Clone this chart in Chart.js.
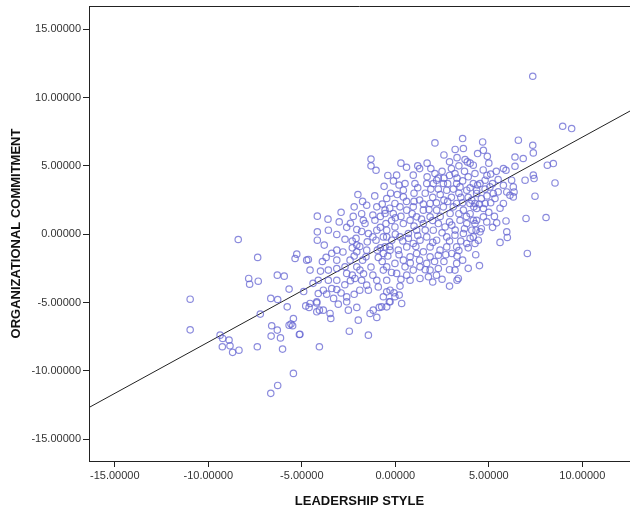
<!DOCTYPE html>
<html>
<head>
<meta charset="utf-8">
<script src="https://cdn.jsdelivr.net/npm/chart.js@4/dist/chart.umd.min.js"></script>
<style>
html,body{margin:0;padding:0;background:#fff}
#wrap{width:630px;height:509px}
</style>
</head>
<body>
<div id="wrap"><canvas id="scatter" width="630" height="509"></canvas></div>
<script>
// ticks
const xTicks = [-15,-10,-5,0,5,10]
const yTicks = [-15,-10,-5,0,5,10,15]

// droite de régression (deux bouts)
const fitX = [-16.4, 12.6]
const fitY = [-12.7, 9.05]

// cas : [leadership, commitment]
const cases = [
[-10.97,-4.76],[-10.97,-7.0],[-8.4,-0.39],[-7.36,-1.7],[-7.84,-3.24],[-7.79,-3.66],[-7.33,-3.44],[-6.31,-3.0],[-5.94,-3.07],[-5.68,-4.02],
[-5.27,-1.46],[-5.36,-1.78],[-6.66,-4.7],[-6.29,-4.78],[-5.78,-5.32],[-7.22,-5.85],[-6.61,-6.7],[-6.31,-7.02],[-6.64,-7.46],[-6.14,-7.59],
[-5.68,-6.66],[-5.49,-6.7],[-5.13,-7.34],[-9.37,-7.39],[-9.23,-7.63],[-8.89,-7.75],[-9.25,-8.24],[-8.84,-8.17],[-8.7,-8.65],[-8.36,-8.49],
[-7.38,-8.24],[-6.03,-8.41],[-5.45,-10.19],[-6.29,-11.07],[-6.66,-11.65],
[-4.79,-5.25],[-4.61,-5.36],[-4.2,-5.03],[-4.06,-5.56],[-4.2,-5.68],[-3.49,-5.8],[-3.45,-6.17],[-3.05,-5.12],[-2.6,-4.95],[-2.06,-5.36],
[-1.98,-6.29],[-1.35,-5.8],[-0.99,-6.09],[-0.86,-5.36],[-0.28,-4.95],[-5.45,-6.17],[-5.58,-6.58],[-5.1,-7.32],[-2.46,-7.1],[-1.44,-7.39],
[-4.06,-8.24],[0.25,-3.8],[0.21,-4.46],[-0.07,-4.29],[-0.32,-4.95],[-0.46,-4.22],[-0.73,-5.32],[3.3,-3.37],
[4.17,-0.2],[4.26,-0.68],[4.53,0.17],[5.96,0.17],[5.99,-0.24],[7.06,-1.41],
[7.35,11.56],[8.95,7.9],[9.43,7.73],[4.67,6.75],[4.71,6.14],[4.92,5.7],[6.58,6.88],[7.35,6.51],[7.38,5.95],[6.84,5.54],
[6.4,5.65],[6.4,4.97],[5.78,4.8],[5.92,4.68],[8.13,5.05],[8.45,5.17],[8.54,3.75],[7.38,4.32],[7.42,4.07],[6.94,3.95],
[7.47,2.78],[6.99,1.15],[8.06,1.22],[5.92,0.97],[5.42,0.83],[4.89,0.9],[4.26,0.78],[4.32,0.29],
[4.26,4.44],[4.53,3.71],[4.8,3.95],[5.06,3.46],[5.24,2.98],[5.33,2.61],[5.78,3.58],[5.96,3.09],[6.13,2.85],[6.31,3.46],
[6.35,3.09],[6.22,3.95],[5.78,2.25],[6.31,2.73],[4.8,2.25],[4.71,1.88],[4.35,2.98],[4.26,2.25],[4.09,2.49],[4.71,1.27],
[4.35,1.02],
[-4.17,1.32],[-4.17,0.17],[-4.17,-0.44],[-3.58,0.29],[-3.13,-0.02],[-2.69,-0.37],[-3.13,-1.17],[-4.65,-1.85],[-1.53,2.12],[-0.99,2.0],
[-1.71,1.02],[-1.62,0.78],[-2.06,0.34],[-2.1,-0.31],[-2.06,-0.8],[-2.06,-1.29],[-1.44,0.05],[-1.5,-0.56],[-1.53,-1.17],[-1.57,-1.66],
[-1.09,1.02],[-0.99,0.29],[-1.03,-0.44],[-0.96,-1.17],[-0.91,-1.7],[-0.55,1.51],[-0.5,0.78],[-0.46,-0.2],[-0.55,-0.93],[-2.42,-1.9],
[-2.69,-2.39],[-2.6,-2.87],[-2.06,-2.39],[-1.89,-2.63],[-2.16,-3.24],[-1.8,-3.37],[-1.53,-3.73],[-1.44,-4.1],[-0.99,-3.37],[-0.64,-2.63],
[-0.91,-3.86],[-3.58,-2.63],[-3.13,-2.51],[-3.58,-3.37],[-3.13,-3.37],[-3.4,-3.98],[-3.85,-4.1],[-4.12,-4.34],[-3.67,-4.39],[-3.13,-4.05],
[-4.12,-3.37],[-4.2,-4.95],[-4.56,-5.07],[-3.85,-5.56],[-2.6,-4.59],[-2.51,-5.56],[-1.18,-5.56],[-4.56,-2.63],[-3.13,-1.9],[-4.74,-1.9],
[-1.03,4.68],[-1.3,5.5],[-1.3,5.0],
[2.12,6.68],[3.64,6.27],[3.73,5.46],[3.85,5.29],[4.17,5.05],[0.07,4.32],[0.96,4.32],[1.05,3.71],[0.52,3.71],[0.43,3.22],
[0.43,2.73],[2.12,4.44],[2.21,3.95],[2.03,3.71],[1.68,3.71],[2.57,3.71],[2.75,3.22],[3.19,4.44],[3.28,3.71],[3.46,3.46],
[3.82,3.22],[4.17,3.71],[4.35,3.22],
[-0.46,2.61],[-0.02,2.25],[-0.55,1.76],[-0.11,1.51],[0.25,2.0],[0.61,1.76],[0.96,2.0],[1.14,1.27],[0.79,1.02],[0.43,0.78],
[-0.02,0.53],[-0.46,0.29],[-0.64,-0.2],[-0.19,-0.44],[0.25,-0.2],[0.7,0.05],[1.14,0.29],[1.5,0.78],[1.86,1.27],[1.5,1.76],
[1.86,2.25],[2.21,1.76],[2.57,2.0],[2.93,1.51],[3.28,2.25],[3.64,1.76],[3.99,2.25],[4.35,1.88],[4.17,1.02],[3.82,0.78],
[3.46,1.02],[3.02,0.66],[2.66,0.53],[2.3,0.78],[2.03,0.29],[1.68,-0.2],[1.32,-0.44],[0.96,-0.68],[0.61,-0.93],[0.16,-1.17],
[-0.28,-1.17],[-0.64,-1.41],[2.21,-0.44],[2.75,-0.2],[3.19,-0.07],[3.64,0.05],[4.09,0.29],[4.44,-0.44],[3.82,-0.68],[3.28,-0.93],
[2.75,-0.93],[2.39,-1.17],[1.86,-0.93],[1.5,-1.29],[1.14,-1.41],[0.79,-1.66],[0.43,-1.9],[-0.02,-2.14],[-0.46,-2.39],[1.86,-1.66],
[2.3,-1.54],[3.02,-1.41],
[-0.46,-3.37],[0.07,-2.87],[0.52,-2.39],[0.61,-3.0],[0.96,-2.63],[1.32,-2.39],[1.68,-2.14],[1.86,-2.63],[1.77,-3.12],[1.32,-3.24],
[0.79,-3.37],[-0.28,-4.1],[-0.64,-4.58],[-0.02,-4.58],[0.34,-5.07],[-0.46,-5.32],[2.3,-2.51],[3.28,-2.14],[3.19,-2.63],[3.37,-3.24],
[-1.8,1.5],[-1.2,1.4],[-0.25,3.0],[-0.6,3.5],[-1.1,2.8],[-0.8,0.5],[-0.2,1.0],[-1.2,-0.2],[-1.9,-0.9],[-2.3,-0.5],
[-2.4,0.8],[-0.1,3.9],[-0.4,4.3],[2.5,4.6],[2.9,5.3],[3.0,4.8],[3.4,5.0],[2.4,2.9],[3.0,2.7],[3.5,2.7],
[3.9,2.7],[4.6,2.6],[5.0,1.6],[5.3,1.3],[5.6,1.9],[4.0,1.5],[4.6,0.4],[3.5,-0.5],[3.9,-1.0],[3.3,-1.6],
[2.6,-2.0],[2.9,-2.6],[2.1,-2.0],[3.6,-1.9],[2.0,-3.5],[2.5,-3.3],[1.3,2.5],[1.0,3.0],[1.6,3.0],[2.0,2.7],
[2.3,3.3],[1.3,4.8],[1.7,5.2],[0.6,4.9],[0.3,5.2],[1.2,5.0],[3.6,7.0],
// zone dense
[-2.2,2.0],[-2.25,1.3],[-1.8,0.2],[-2.3,-1.0],[-1.75,-1.9],[-2.2,-1.6],[-1.7,-2.9],[-2.3,-3.0],[-1.9,-4.1],[-2.2,-4.4],
[-1.75,2.4],[-2.0,2.9],[-0.8,1.3],[-0.3,1.9],[0.1,2.9],[0.3,1.3],[0.0,0.0],[0.4,-0.5],[-0.3,-0.9],[0.2,-1.5],
[-0.8,-1.0],[-0.7,-2.0],[-0.2,-2.8],[0.3,-3.3],[0.8,-2.1],[0.7,-0.3],[1.0,0.6],[0.6,2.4],[0.2,3.6],[-0.7,2.2],
[-1.3,-2.4],[-1.2,-3.0],[0.9,1.5],[0.0,1.2],[-0.4,-1.6],[1.1,-0.9],
[1.2,3.4],[1.5,2.2],[1.0,2.4],[1.8,1.8],[2.0,1.0],[2.4,1.3],[2.6,2.5],[2.8,3.7],[2.3,4.1],[1.9,3.3],
[1.4,1.1],[1.2,-0.1],[1.6,0.3],[2.5,0.1],[2.9,0.9],[2.0,-0.6],[2.7,-1.5],[1.3,-1.9],[1.6,-2.6],[2.2,-3.0],
[2.8,2.4],[2.2,2.3],[1.7,4.2],[2.6,4.1],[1.9,4.8],[2.9,4.3],
[3.1,3.3],[3.3,4.1],[3.6,3.9],[3.9,4.2],[3.7,4.6],[4.0,3.4],[3.4,3.0],[3.1,2.0],[3.4,1.5],[3.8,1.3],
[3.6,2.3],[4.2,2.0],[4.5,2.2],[4.8,3.3],[4.4,3.6],[4.9,2.8],[5.1,2.3],[5.2,3.7],[5.5,3.1],[5.5,4.0],
[5.1,4.4],[4.7,4.7],[4.9,4.3],[3.2,0.3],[3.7,0.4],[2.9,-0.5],[4.0,-0.3],[3.4,-1.2],[4.3,-1.5],[3.9,-2.5],
[2.9,-3.8],[4.0,5.2],[3.3,5.6],[3.2,6.2],[2.6,5.8],[4.4,5.9],[5.4,4.6],[5.0,5.2],[4.5,-2.3],[5.2,0.5],
[5.6,-0.6],
[-3.4,-1.4],[-2.8,-1.3],[-3.9,-2.0],[-2.7,-3.7],[-3.3,-4.7],[-4.0,-2.7],[-3.8,-0.8],[-2.6,0.5],[-3.0,0.9],[-2.9,-4.3],
[-4.4,-3.6],[-4.9,-4.2],[-3.7,-1.7],[-2.4,-3.4],[-2.9,1.6],[-3.6,1.1]
]

const font = "Arial, 'Liberation Sans', sans-serif"

// cadre du haut
const topBorder = {
id:"topBorder",
afterDraw(chart){
const a = chart.chartArea
const c = chart.ctx
c.save()
c.strokeStyle = "#222"
c.lineWidth = 1
c.beginPath()
c.moveTo(a.left, a.top+0.5)
c.lineTo(a.right, a.top+0.5)
c.stroke()
c.restore()
}
}

const ctx = document.getElementById("scatter")

new Chart(ctx,{
type:"scatter",
data:{
datasets:[{
label:"cases",
data:cases.map(p=>({x:p[0],y:p[1]})),
pointRadius:3.2,
pointHoverRadius:3.2,
pointBorderWidth:1.2,
pointBorderColor:"rgba(100,100,210,0.75)",
pointBackgroundColor:"rgba(0,0,0,0)"
},{
type:"line",
label:"fit",
data:fitX.map((x,i)=>({x:x,y:fitY[i]})),
borderColor:"#222",
borderWidth:1,
pointRadius:0,
fill:false
}]
},
options:{
responsive:false,
animation:false,
devicePixelRatio:1,
layout:{autoPadding:false,padding:{top:6,right:0,left:0,bottom:0}},
plugins:{legend:{display:false},tooltip:{enabled:false}},
scales:{
x:{
type:"linear",
min:-16.38,
max:12.55,
afterFit(s){ s.height = 48; s.paddingRight = 0; s.paddingLeft = 0 },
afterBuildTicks(s){ s.ticks = xTicks.map(v=>({value:v})) },
ticks:{
callback:v=>v.toFixed(5),
font:{family:font,size:11},
color:"#333",
padding:2,
maxRotation:0,
autoSkip:false
},
grid:{drawOnChartArea:false,tickLength:6,color:"#222"},
border:{color:"#222",width:1},
title:{
display:true,
text:"LEADERSHIP STYLE",
font:{family:font,size:13,weight:"bold"},
color:"#111",
padding:{top:4,bottom:0}
}
},
y:{
type:"linear",
min:-16.6,
max:16.7,
afterFit(s){ s.width = 89; s.paddingTop = 0; s.paddingBottom = 0 },
afterBuildTicks(s){ s.ticks = yTicks.map(v=>({value:v})) },
ticks:{
callback:v=>v.toFixed(5),
font:{family:font,size:11},
color:"#333",
padding:2,
autoSkip:false
},
grid:{drawOnChartArea:false,tickLength:6,color:"#222"},
border:{color:"#222",width:1},
title:{
display:true,
text:"ORGANIZATIONAL COMMITMENT",
font:{family:font,size:13,weight:"bold"},
color:"#111",
padding:{top:9,bottom:0}
}
}
}
},
plugins:[topBorder]
})
</script>
</body>
</html>
